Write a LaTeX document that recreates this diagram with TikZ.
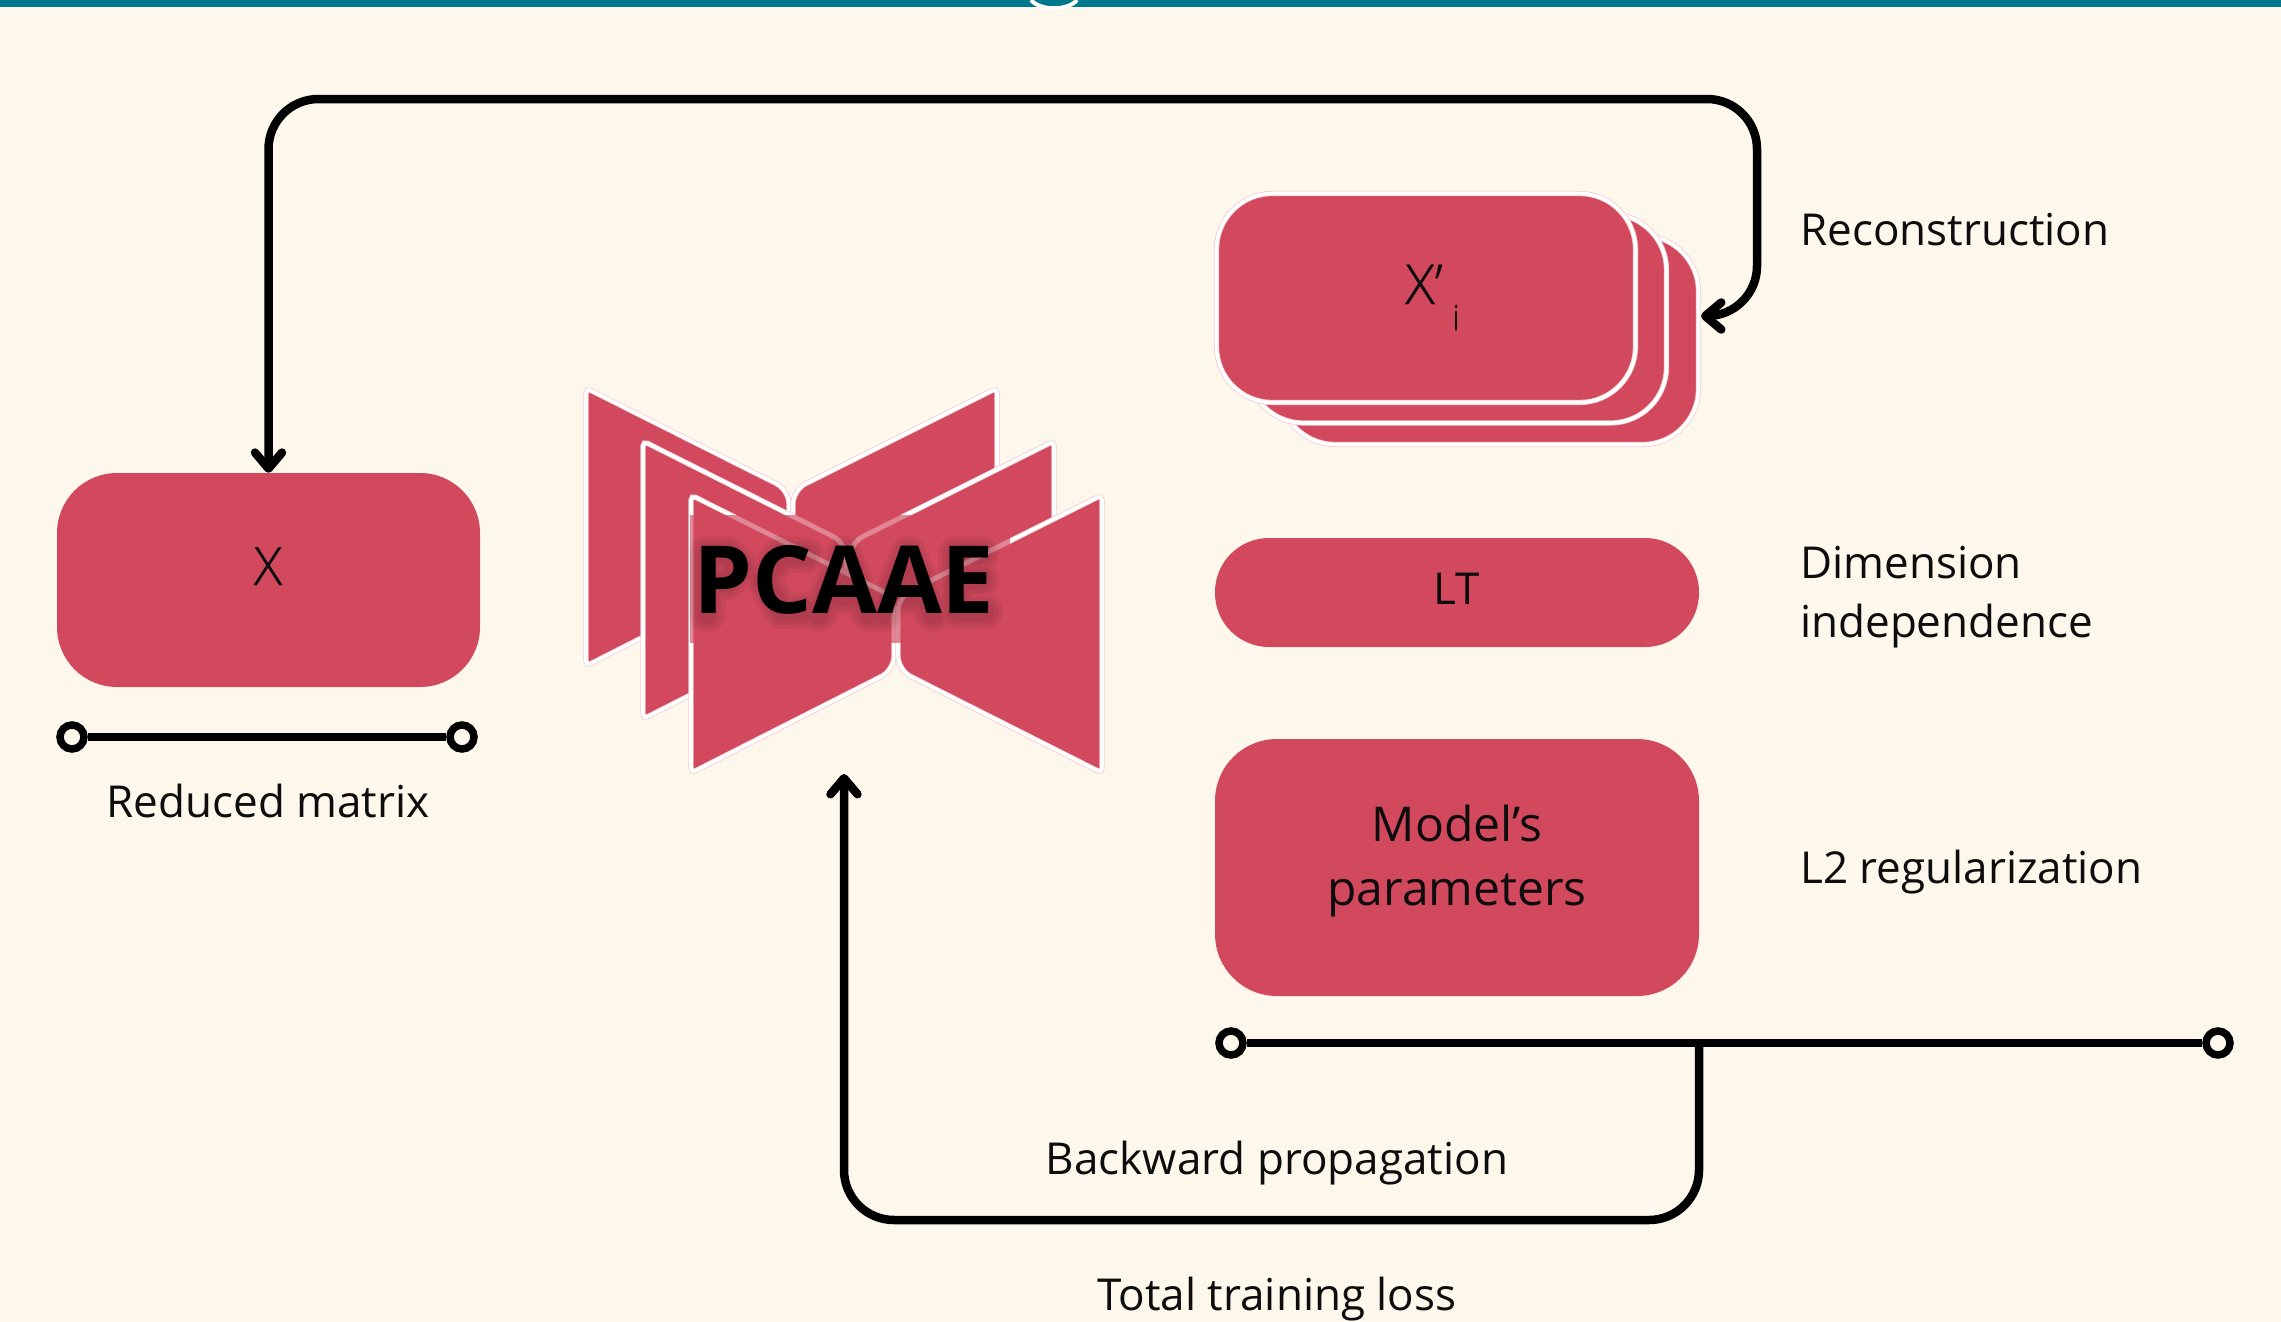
\documentclass[tikz,border=0pt]{standalone}
\usepackage{fontspec}
\setmainfont{Open Sans}
\newfontfamily\lightfont[FakeBold=0.5]{Open Sans Light}
\usetikzlibrary{arrows.meta,fadings}
\definecolor{cream}{HTML}{FEF8EC}
\definecolor{tealbar}{HTML}{00788C}
\definecolor{redbox}{HTML}{D2495E}
\definecolor{pinkedge}{HTML}{F4CDD2}
\tikzset{
  x=1pt,y=-1pt,
  plainbox/.style={fill=redbox,rectangle,inner sep=0pt},
  edgedbox/.style={fill=redbox,rectangle,inner sep=0pt,draw=pinkedge,line width=.8pt,double=white,double distance=3.6pt},
  wing/.style={fill=redbox,draw=pinkedge,line width=.8pt,double=white,double distance=3.6pt},
  conn/.style={draw=black,line width=8.5pt},
  barbtip/.tip={Straight Barb[length=16pt,width=27pt,line width=8.5pt,round]},
  arrowconn/.style={draw=black,line width=8.5pt,rounded corners=50pt},
  term/.style={circle,draw=black,fill=cream,line width=7.5pt,minimum size=24pt,inner sep=0pt},
  label/.style={font=\fontsize{44}{60}\selectfont,inner sep=0pt,text=black!95},
  shadowline/.style={draw=black,opacity=.05,line cap=round,line join=round}
}
\newcommand{\pcwings}[2]{%
  \begin{scope}[shift={(#1,#2)}]
    \path[wing] (691,633) [rounded corners=5pt] -- (691,495) [rounded corners=14pt] -- (894,597) -- (894,670) [rounded corners=5pt] -- (691,773) -- cycle;
    \path[wing] (1102,633) [rounded corners=5pt] -- (1102,495) [rounded corners=14pt] -- (898,597) -- (898,670) [rounded corners=5pt] -- (1102,773) -- cycle;
  \end{scope}}
\newcommand{\shadowtrace}[1]{%
  \begin{scope}[shift={(560,363)},x=.357pt,y=-.3333pt]
    \path[shadowline,line width=#1pt]
      (413,755)--(413,572)--(470,572)--(505,610)--(470,658)--(430,658)
      (690,578)--(620,572)--(570,650)--(620,745)--(690,742)
      (725,755)--(795,572)--(865,755) (750,700)--(840,700)
      (905,755)--(975,572)--(1045,755) (930,700)--(1020,700)
      (1180,572)--(1110,572)--(1110,745)--(1190,745) (1110,650)--(1180,650);
  \end{scope}}
\begin{document}
\begin{tikzpicture}
\useasboundingbox (0,0) rectangle (2281,1322);
\fill[cream] (0,0) rectangle (2281,1322);
\fill[tealbar] (0,0) rectangle (2281,7);
\draw[white,line width=4pt] (1031,0) .. controls (1040,11) and (1068,11) .. (1077,0);

% reconstruction stack
\node[edgedbox,rounded corners=56pt,minimum width=419pt,minimum height=209pt] (xithree) at (1489,340) {};
\node[edgedbox,rounded corners=56pt,minimum width=419pt,minimum height=209pt] (xitwo) at (1457,318.5) {};
\node[edgedbox,rounded corners=56pt,minimum width=419pt,minimum height=209pt] (xione) at (1426,298) {};
\node[label,font=\lightfont\fontsize{55}{60}\selectfont,anchor=base west] (xilabel) at (1405,304) {X’};
\node[label,font=\lightfont\fontsize{35}{40}\selectfont,anchor=base] (xisub) at (1456,330) {i};

% input
\node[plainbox,rounded corners=60pt,minimum width=423pt,minimum height=214pt] (xbox) at (268.5,580) {};
\node[label,font=\lightfont\fontsize{53}{60}\selectfont,anchor=base] (xlabel) at (268,585) {X};
\node[term] (ta) at (72,737) {};
\node[term] (tb) at (462,737) {};
\draw[conn] (ta) -- (tb);
\node[label,anchor=base] (rm) at (268,817) {Reduced matrix};

% middle
\pcwings{-105}{-107}
\pcwings{-48}{-54}
\pcwings{0}{0}
\fill[redbox,opacity=.65] (690,515) rectangle (1010,643);
\shadowtrace{36}
\shadowtrace{28}
\shadowtrace{20}
\node[font=\bfseries\fontsize{94}{100}\selectfont,anchor=base,inner sep=0pt] (pcaae) at (844,613) {PCAAE};

% right boxes
\node[plainbox,rounded corners=54pt,minimum width=484pt,minimum height=109pt] (lt) at (1457,592.5) {};
\node[label,anchor=base] (ltl) at (1457,604) {LT};
\node[plainbox,rounded corners=62pt,minimum width=484pt,minimum height=257pt] (model) at (1457,867.5) {};
\node[label,align=center,font=\fontsize{48}{64}\selectfont] (modell) at (1457,861) {Model’s\\parameters};

% side labels
\node[label,anchor=base west] (rec) at (1800,245) {Reconstruction};
\node[label,anchor=west,align=left,font=\fontsize{44}{59}\selectfont] (dim) at (1800,597) {Dimension\\independence};
\node[label,anchor=base west] (l2) at (1800,883) {L2 regularization};
\node[label,anchor=base] (bp) at (1277,1174) {Backward propagation};
\node[label,anchor=base] (tl) at (1277,1310) {Total training loss};

% loss line
\node[term] (tc) at (1231,1043) {};
\node[term] (td) at (2218,1043) {};
\draw[conn] (tc) -- (td);
\coordinate (lossj) at (1699,1043);
\coordinate (pcaaein) at (844,774);
\draw[arrowconn,-barbtip] (lossj) -- (1699,1220) -- (844,1220) -- (pcaaein);

% reconstruction loop
\coordinate (xiin) at (1701,316);
\draw[arrowconn,barbtip-barbtip] (xiin) -- (1757,316) -- (1757,99) -- (268.5,99) -- (xbox.north);
\end{tikzpicture}
\end{document}
